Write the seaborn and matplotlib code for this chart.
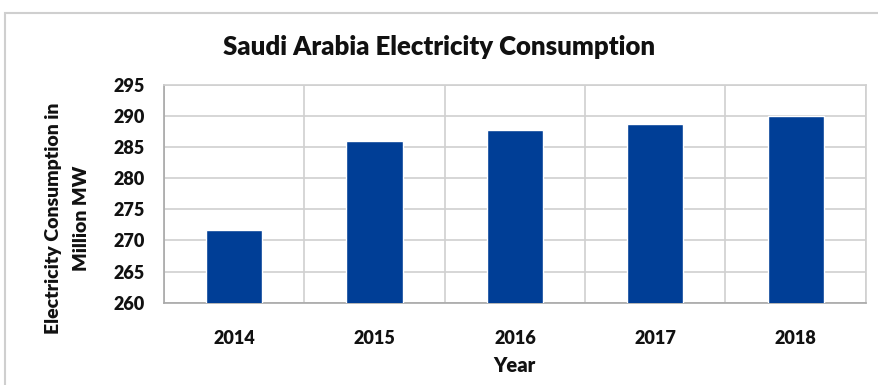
import numpy as np
import pandas as pd
import matplotlib
matplotlib.use("Agg")
import matplotlib.pyplot as plt
import seaborn as sns
from matplotlib.patches import Rectangle

# Annual electricity consumption (million MW)
years = ["2014", "2015", "2016", "2017", "2018"]
consumption = [271.6, 286.0, 287.7, 288.7, 290.0]
y_label_lines = ["Electricity Consumption in", "Million MW"]

df = pd.DataFrame({"Year": years, "Consumption": consumption})

sns.set_theme(style="white")
plt.rcParams["font.family"] = ["Lato", "DejaVu Sans"]

WEIGHT = "heavy"
TEXT = "#111111"

fig = plt.figure(figsize=(8.79, 3.85), dpi=100)
ax = fig.add_axes([0.1866, 0.2138, 0.7984, 0.5662])

sns.barplot(data=df, x="Year", y="Consumption", color="#003E96",
            width=0.4, saturation=1, ax=ax, zorder=3)

ax.set_ylim(260, 295)
ax.set_yticks(np.arange(260, 296, 5))
ax.set_xlim(-0.5, 4.5)
ax.set_xticks(np.arange(-0.5, 5, 1), minor=True)

grid_color = "#d0d0d0"
ax.grid(axis="y", which="major", color=grid_color, linewidth=1.2, zorder=0)
ax.grid(axis="x", which="minor", color=grid_color, linewidth=1.2, zorder=0)
ax.tick_params(axis="both", which="both", length=0)
ax.tick_params(axis="x", pad=20)
ax.tick_params(axis="y", pad=14)

for side in ["top", "right"]:
    ax.spines[side].set_color(grid_color)
    ax.spines[side].set_linewidth(1.2)
for side in ["left", "bottom"]:
    ax.spines[side].set_color("#a8a8a8")
    ax.spines[side].set_linewidth(1.2)

for lab in ax.get_xticklabels() + ax.get_yticklabels():
    lab.set_fontweight(WEIGHT)
    lab.set_fontsize(13)
    lab.set_color(TEXT)

ax.set_xlabel("Year", fontsize=14.5, fontweight=WEIGHT, color=TEXT)
ax.xaxis.set_label_coords(0.5, -0.286)
ax.xaxis.label.set_va("center")

# Two-line y-axis title, one text per line for steady spacing
ax.set_ylabel("")
for line, xpos in zip(y_label_lines, [-0.158, -0.118]):
    ax.text(xpos, 0.389, line, transform=ax.transAxes, rotation=90,
            ha="center", va="center", fontsize=14, fontweight=WEIGHT,
            color=TEXT)

fig.text(0.5, 0.878, "Saudi Arabia Electricity Consumption", ha="center",
         va="center", fontsize=18.5, fontweight=WEIGHT, color=TEXT)

# Chart frame
fig.patches.append(Rectangle((5 / 879, -0.1), 1.2, 1.1 - 13 / 385,
                             transform=fig.transFigure, fill=False,
                             edgecolor="#cfcfcf", linewidth=1.5))

fig.savefig("out.png", dpi=100)
